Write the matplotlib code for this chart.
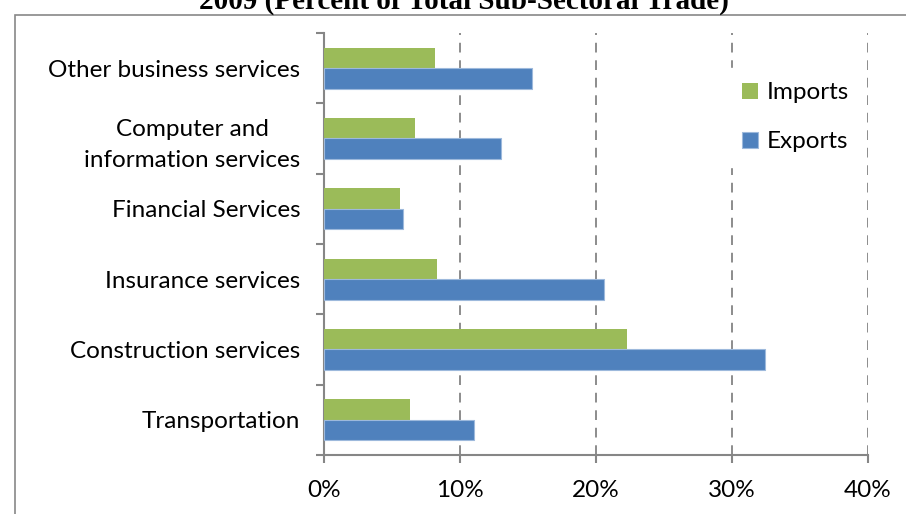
import matplotlib.pyplot as plt
from matplotlib.patches import Rectangle
import numpy as np

# dane (w procentach)
categories = ["Transportation", "Construction services", "Insurance services",
              "Financial Services", "Computer and\ninformation services",
              "Other business services"]
imports = [6.3, 22.3, 8.3, 5.6, 6.7, 8.2]
exports = [11.0, 32.4, 20.6, 5.8, 13.0, 15.3]
x_ticks = [0, 10, 20, 30, 40]
x_labels = ["0%", "10%", "20%", "30%", "40%"]
title = "2009 (Percent of Total Sub-Sectoral Trade)"

plt.rcParams['font.family'] = ['Lato', 'DejaVu Sans']
fs = 17.5

fig = plt.figure(figsize=(9.06, 5.14), dpi=100)
ax = fig.add_axes([0.3576, 0.1148, 0.6004, 0.8210])

y = np.arange(len(categories))
h = 0.29
green = "#9BBB59"
blue = "#4F81BD"

ax.barh(y + h / 2, imports, height=h, color=green, label="Imports", zorder=3)
ax.barh(y - h / 2, exports, height=h, color=blue, edgecolor="#9DB9DC",
        linewidth=0.8, label="Exports", zorder=3)

ax.set_xlim(0, 40)
ax.set_ylim(-0.5, len(categories) - 0.5)
ax.set_xticks(x_ticks)
ax.set_xticklabels(x_labels, fontsize=fs)
ax.set_yticks(np.arange(len(categories) + 1) - 0.5, minor=False)
ax.set_yticklabels([])
ax.set_yticks(y, minor=True)
ax.set_yticklabels(categories, minor=True, fontsize=fs, ha="right",
                   multialignment="center", linespacing=1.55)
ax.tick_params(axis="y", which="minor", length=0, pad=17)
ax.tick_params(axis="y", which="major", length=6, color="#868686", width=1.5)
ax.tick_params(axis="x", length=6, color="#868686", width=1.5, pad=12)

for t in x_ticks[1:]:
    ax.axvline(t, color="#8C8C8C", linestyle=(0, (5, 4)), linewidth=1.4, zorder=1)

for s in ["top", "right"]:
    ax.spines[s].set_visible(False)
for s in ["left", "bottom"]:
    ax.spines[s].set_color("#868686")
    ax.spines[s].set_linewidth(1.5)

leg = ax.legend(loc="upper left", bbox_to_anchor=(0.79, 0.892),
                bbox_transform=fig.transFigure, fontsize=fs,
                frameon=True, facecolor="white", edgecolor="white",
                framealpha=1, fancybox=False, labelspacing=1.15,
                handlelength=0.65, handleheight=0.65, handletextpad=0.35,
                borderpad=0.6)
leg.set_zorder(5)

# ramka wokół wykresu
fig.patches.append(Rectangle((15 / 906, -0.01), 1.0, 1 - 15 / 514 + 0.01,
                             transform=fig.transFigure, fill=False,
                             edgecolor="#888888", linewidth=1.2))

fig.text(0.512, 1 - 9 / 514, title, ha="center", va="baseline",
         fontsize=21, fontweight="bold", family=["Liberation Serif", "DejaVu Serif"])

fig.savefig("out.png", dpi=100)
